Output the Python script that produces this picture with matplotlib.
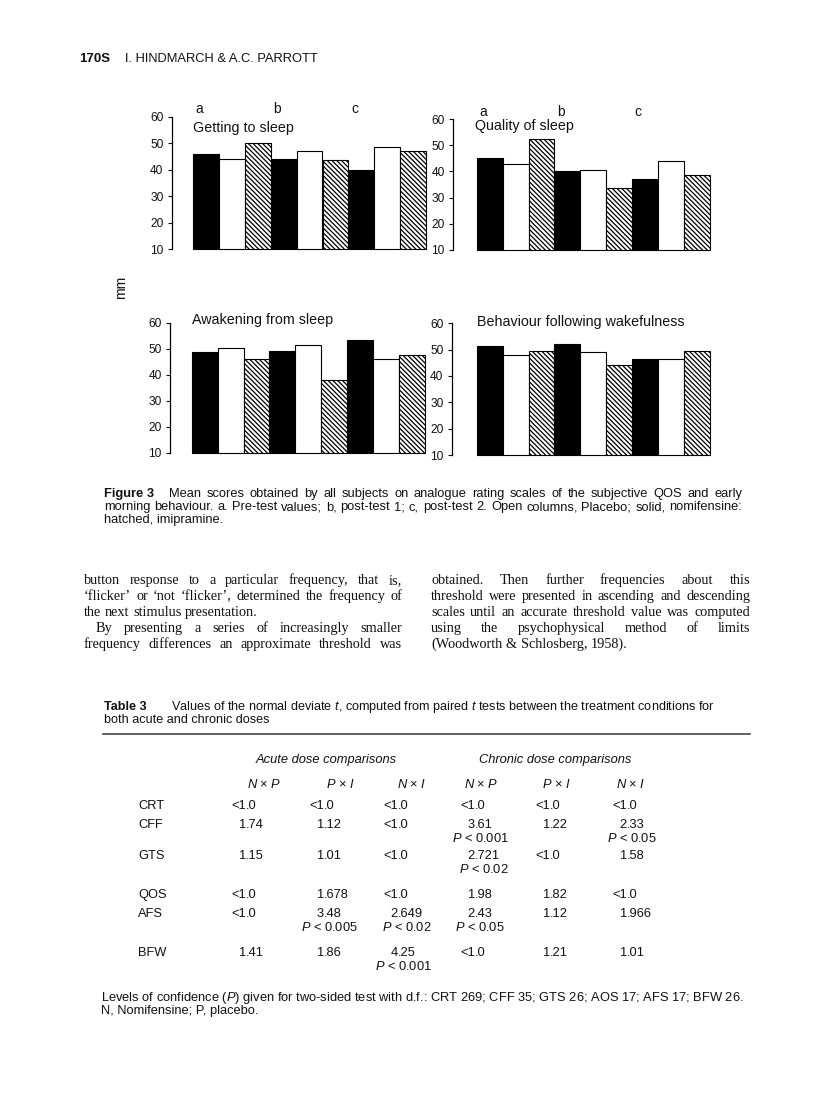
# -*- encoding: utf-8 -*-
"""
Page 170S: Figure 3 (mean QOS / early morning behaviour scores) and Table 3.
"""

import numpy as np
import matplotlib
matplotlib.use('Agg')
import matplotlib.pyplot as plt

plt.rcParams['font.family'] = ['Liberation Sans', 'DejaVu Sans']
plt.rcParams['mathtext.fontset'] = 'custom'
plt.rcParams['mathtext.rm'] = 'Liberation Sans'
plt.rcParams['mathtext.it'] = 'Liberation Sans:italic'
plt.rcParams['mathtext.bf'] = 'Liberation Sans:bold'
plt.rcParams['hatch.linewidth'] = 0.9
plt.rcParams['text.color'] = '#111111'

W, H = 816, 1103
INK = '#111111'

# ---- figure 3 data (mm), order in each group: nomifensine, placebo, imipramine
groups = ['a', 'b', 'c']
titles = ['Getting to sleep', 'Quality of sleep', 'Awakening from sleep',
          'Behaviour following wakefulness']
getting_to_sleep = [46, 44, 50, 44, 47, 43.7, 40, 48.5, 47]
quality_of_sleep = [45, 42.8, 52.5, 40, 40.5, 33.5, 37.2, 44, 38.6]
awakening = [48.8, 50.1, 45.9, 49.3, 51.6, 38.1, 53.3, 45.9, 47.6]
behaviour = [51.2, 48, 49.3, 52, 49.1, 44, 46.6, 46.4, 49.4]
y_ticks = [10, 20, 30, 40, 50, 60]

# ---- table 3 data
rows = ['CRT', 'CFF', 'GTS', 'QOS', 'AFS', 'BFW']
col_heads = ['N x P', 'P x I', 'N x I', 'N x P', 'P x I', 'N x I']
acute_np = ['<1.0', '1.74', '1.15', '<1.0', '<1.0', '1.41']
acute_pi = ['<1.0', '1.12', '1.01', '1.678', '3.48', '1.86']
acute_ni = ['<1.0', '<1.0', '<1.0', '<1.0', '2.649', '4.25']
chronic_np = ['<1.0', '3.61', '2.721', '1.98', '2.43', '<1.0']
chronic_pi = ['<1.0', '1.22', '<1.0', '1.82', '1.12', '1.21']
chronic_ni = ['<1.0', '2.33', '1.58', '<1.0', '1.966', '1.01']
acute_np_p = ['', '', '', '', '', '']
acute_pi_p = ['', '', '', '', '0.005', '']
acute_ni_p = ['', '', '', '', '0.02', '0.001']
chronic_np_p = ['', '0.001', '0.02', '', '0.05', '']
chronic_pi_p = ['', '', '', '', '', '']
chronic_ni_p = ['', '0.05', '', '', '', '']

fig = plt.figure(figsize=(W / 100, H / 100), dpi=100)
renderer = fig.canvas.get_renderer()


def fx(x):
    return x / W


def fy(y):
    return 1 - y / H


def text(x, y, s, **kw):
    kw.setdefault('va', 'baseline')
    kw.setdefault('color', INK)
    return fig.text(fx(x), fy(y), s, **kw)


def width(t):
    return t.get_window_extent(renderer).width


def text_line(words, x0, x1, y, justify, **kw):
    # draw a line word by word so it can be justified like the typeset page
    items = [text(0, y, w, **kw) for w in words]
    widths = [width(t) for t in items]
    probe_a = text(0, y, 'a a', **kw)
    probe_b = text(0, y, 'aa', **kw)
    space = width(probe_a) - width(probe_b)
    probe_a.remove()
    probe_b.remove()
    if justify and len(items) > 1:
        gap = (x1 - x0 - sum(widths)) / (len(items) - 1)
    else:
        gap = space
    x = x0
    for t, w in zip(items, widths):
        t.set_x(fx(x))
        x += w + gap


# ---- page header
text(79, 62, '170S', fontsize=9.5, fontweight='bold')
text(125, 62, 'I. HINDMARCH & A.C. PARROTT', fontsize=9.3)

# ---- the four bar panels
BAR_PX = 25.9
fills = ['black', 'white', 'white']
hatches = ['', '', '\\' * 7]


def bar_panel(spine_x, y60, y10, bar0, values, title, title_xy, show_groups):
    left = -0.5 - (bar0 - spine_x) / BAR_PX
    right = len(values) - 0.5 + 0.3
    ax = fig.add_axes([fx(spine_x), fy(y10), (right - left) * BAR_PX / W,
                       (y10 - y60) / H])
    x = np.arange(len(values))
    bars = ax.bar(x, np.array(values) - 10, bottom=10, width=1.0,
                  edgecolor='black', linewidth=0.8, clip_on=False)
    for i, b in enumerate(bars):
        b.set_facecolor(fills[i % 3])
        b.set_hatch(hatches[i % 3])
    ax.set_xlim(left, right)
    ax.set_ylim(10, 60)
    for s in ['top', 'right', 'bottom']:
        ax.spines[s].set_visible(False)
    ax.spines['left'].set_linewidth(0.9)
    ax.set_xticks([])
    ax.set_yticks(y_ticks)
    ax.set_yticks([10, 60], minor=True)
    ax.tick_params(axis='y', which='major', direction='out', length=3,
                   width=0.8, pad=3, labelsize=8.6, colors=INK)
    ax.tick_params(axis='y', which='minor', direction='in', length=4,
                   width=0.8)
    ax.text(title_xy[0], title_xy[1], title, fontsize=10.3, va='center',
            ha='left', color=INK, clip_on=False)
    if show_groups:
        for g, lab in enumerate(groups):
            ax.text(g * 3 - 0.4, 62.8, lab, fontsize=10, va='center',
                    ha='left', color=INK, clip_on=False)
    return ax


bar_panel(171.7, 116.7, 249, 193, getting_to_sleep, titles[0], (-0.5, 55.6), True)
bar_panel(453, 119, 250, 476.7, quality_of_sleep, titles[1], (-0.55, 57.3), True)
bar_panel(170, 322.7, 452.7, 191.7, awakening, titles[2], (-0.5, 60.9), False)
bar_panel(451.7, 323.3, 455, 476.7, behaviour, titles[3], (-0.5, 60.6), False)

text(121, 287, 'mm', fontsize=10, rotation=90, ha='center', va='center')

# ---- figure caption (justified like the printed page)
small = dict(fontsize=9.3)
text(104, 497, 'Figure 3', fontweight='bold', **small)
text_line('Mean scores obtained by all subjects on analogue rating scales '
          'of the subjective QOS and early'.split(), 169, 742, 497, True, **small)
text_line('morning behaviour. a. Pre-test values; b, post-test 1; c, '
          'post-test 2. Open columns, Placebo; solid, nomifensine:'.split(),
          104, 742, 510, True, **small)
text(104, 523, 'hatched, imipramine.', **small)

# ---- body text, two justified columns
body = dict(fontsize=10.3, family=['Liberation Serif'])
left_col = [
    ('button response to a particular frequency, that is,', 84, True),
    ('\u2018flicker\u2019 or \u2018not  \u2018flicker\u2019, determined the frequency of', 84, True),
    ('the next stimulus presentation.', 84, False),
    ('By presenting a series of increasingly smaller', 96, True),
    ('frequency differences an approximate threshold was', 84, True),
]
right_col = [
    ('obtained. Then further frequencies about this', True),
    ('threshold were presented in ascending and descending', True),
    ('scales until an accurate threshold value was computed', True),
    ('using the psychophysical method of limits', True),
    ('(Woodworth & Schlosberg, 1958).', False),
]
for i, (line, x0, just) in enumerate(left_col):
    text_line(line.split(), x0, 402, 584 + 16 * i, just, **body)
for i, (line, just) in enumerate(right_col):
    text_line(line.split(), 431, 750, 584 + 16 * i, just, **body)

# ---- table 3
tcap = dict(fontsize=9.1)
text(104, 710, 'Table 3', fontweight='bold', **tcap)
text(171, 710, 'Values of the normal deviate $t$, computed from paired $t$ tests '
     'between the treatment conditions for', **tcap)
text(104, 723, 'both acute and chronic doses', **tcap)
fig.add_artist(plt.Line2D([fx(103), fx(750)], [fy(734), fy(734)],
                          color='#444444', linewidth=1.2))

col_dec = [246, 324, 398, 475, 550, 627]
head_shift = [14, 12, 10, 2, 2, 0]
text((col_dec[0] + col_dec[2]) / 2 + 4, 763, 'Acute dose comparisons',
     ha='center', fontstyle='italic', **small)
text((col_dec[3] + col_dec[5]) / 2 + 4, 763, 'Chronic dose comparisons',
     ha='center', fontstyle='italic', **small)
for xd, dx, head in zip(col_dec, head_shift, col_heads):
    a, b = head.split(' x ')
    text(xd + 4 + dx, 788, '$%s$ \u00d7 $%s$' % (a, b), ha='center', **small)

columns = [acute_np, acute_pi, acute_ni, chronic_np, chronic_pi, chronic_ni]
p_columns = [acute_np_p, acute_pi_p, acute_ni_p, chronic_np_p, chronic_pi_p,
             chronic_ni_p]
row_y = [809, 828, 859, 898, 917, 956]
for r, lab in enumerate(rows):
    text(138, row_y[r], lab, **small)
    for xd, col, pcol in zip(col_dec, columns, p_columns):
        whole, frac = col[r].split('.')
        t1 = text(xd, row_y[r], whole, ha='right', **small)
        t2 = text(xd, row_y[r], '.' + frac, ha='left', **small)
        if pcol[r]:
            e1 = t1.get_window_extent(renderer)
            e2 = t2.get_window_extent(renderer)
            centre = (e1.x0 + e2.x1) / 2
            text(centre, row_y[r] + 14, '$P$ < ' + pcol[r], ha='center', **small)

text(101, 1001, 'Levels of confidence ($P$) given for two-sided test with d.f.: '
     'CRT 269; CFF 35; GTS 26; AOS 17; AFS 17; BFW 26.', **small)
text(101, 1014, 'N, Nomifensine; P, placebo.', **small)

fig.savefig('out.png', dpi=100, facecolor='white')
